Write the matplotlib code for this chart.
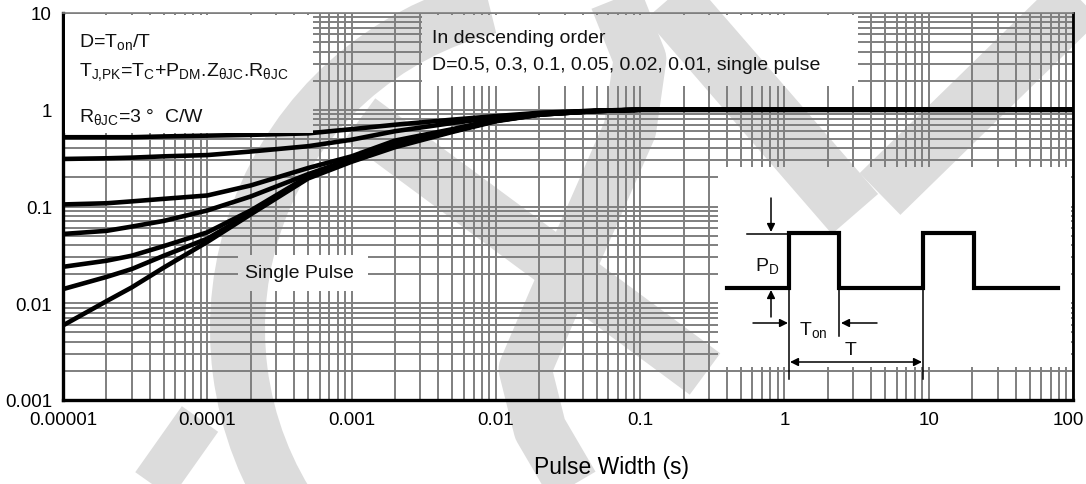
import numpy as np
import matplotlib
matplotlib.use("Agg")
import matplotlib.pyplot as plt
from matplotlib.patches import Rectangle, Wedge
from matplotlib.transforms import ScaledTranslation
from matplotlib.ticker import FixedLocator, FixedFormatter, LogLocator, NullFormatter

plt.rcParams['font.family'] = ['Liberation Sans', 'DejaVu Sans']

# transient thermal impedance
pulse_width = [1e-5, 2e-5, 3e-5, 5e-5, 1e-4, 2e-4, 5e-4, 1e-3, 2e-3, 5e-3,
               1e-2, 2e-2, 5e-2, 0.1, 1, 10, 100]
z_d050 = [0.52, 0.52, 0.52, 0.53, 0.54, 0.55, 0.57, 0.63, 0.70, 0.79, 0.86, 0.93, 0.98, 1.0, 1.0, 1.0, 1.0]
z_d030 = [0.31, 0.315, 0.32, 0.33, 0.34, 0.37, 0.42, 0.49, 0.60, 0.73, 0.83, 0.92, 0.98, 1.0, 1.0, 1.0, 1.0]
z_d010 = [0.105, 0.108, 0.113, 0.12, 0.13, 0.165, 0.25, 0.33, 0.48, 0.63, 0.79, 0.90, 0.97, 1.0, 1.0, 1.0, 1.0]
z_d005 = [0.052, 0.056, 0.062, 0.071, 0.091, 0.127, 0.216, 0.31, 0.44, 0.62, 0.78, 0.90, 0.97, 1.0, 1.0, 1.0, 1.0]
z_d002 = [0.0238, 0.0275, 0.031, 0.039, 0.054, 0.091, 0.205, 0.30, 0.43, 0.60, 0.77, 0.89, 0.97, 1.0, 1.0, 1.0, 1.0]
z_d001 = [0.014, 0.0187, 0.0226, 0.031, 0.0465, 0.085, 0.20, 0.295, 0.42, 0.60, 0.77, 0.89, 0.97, 1.0, 1.0, 1.0, 1.0]
z_single = [0.0059, 0.0105, 0.0146, 0.0234, 0.043, 0.083, 0.195, 0.29, 0.41, 0.59, 0.76, 0.89, 0.97, 1.0, 1.0, 1.0, 1.0]
curves = [z_d050, z_d030, z_d010, z_d005, z_d002, z_d001, z_single]

x_ticks = [1e-5, 1e-4, 1e-3, 1e-2, 1e-1, 1, 10, 100]
x_labels = ["0.00001", "0.0001", "0.001", "0.01", "0.1", "1", "10", "100"]
y_ticks = [0.001, 0.01, 0.1, 1, 10]
y_labels = ["0.001", "0.01", "0.1", "1", "10"]

W, H = 1086, 485
WM = '#dcdcdc'


def watermark(target, clip=None):
    # rough copy of the light grey logo behind the chart (pixel coords)
    arts = [target.add_patch(Wedge((570, 330), 360, 145, 256, width=55,
                                   facecolor=WM, edgecolor='none', zorder=3))]
    strokes = [([360, 705], [120, 375], 37),
               ([612, 640, 630, 595, 555, 525, 540, 578], [-10, 60, 130, 210, 300, 370, 430, 495], 38),
               ([660, 855], [-10, 215], 44),
               ([1095, 880], [-15, 195], 42),
               ([200, 140], [420, 505], 32)]
    for xs, ys, w in strokes:
        arts += target.plot(xs, ys, color=WM, lw=w, solid_capstyle='butt', zorder=3)
    if clip is not None:
        for a in arts:
            a.set_clip_path(clip)


fig = plt.figure(figsize=(W / 100, H / 100), dpi=100)

bg = fig.add_axes([0, 0, 1, 1], zorder=0)
bg.set_xlim(0, W)
bg.set_ylim(H, 0)
bg.axis('off')
watermark(bg)

ax = fig.add_axes([63 / W, (H - 401) / H, (1073 - 63) / W, (401 - 14) / H], zorder=1)
ax.set_facecolor('none')
for z in curves:
    ax.plot(pulse_width, z, color='black', lw=3.3, zorder=3)

ax.set_xscale('log')
ax.set_yscale('log')
ax.set_xlim(1e-5, 100)
ax.set_ylim(1e-3, 10)
ax.xaxis.set_major_locator(FixedLocator(x_ticks))
ax.xaxis.set_major_formatter(FixedFormatter(x_labels))
ax.yaxis.set_major_locator(FixedLocator(y_ticks))
ax.yaxis.set_major_formatter(FixedFormatter(y_labels))
for a in (ax.xaxis, ax.yaxis):
    a.set_minor_locator(LogLocator(10, subs=np.arange(2, 10), numticks=60))
    a.set_minor_formatter(NullFormatter())
ax.grid(True, which='both', color='#7f7f7f', lw=1.4)
ax.tick_params(which='both', length=0, labelsize=13.5)
ax.tick_params(axis='x', pad=8)
ax.tick_params(axis='y', pad=8)
ax.spines['left'].set_linewidth(2.4)
ax.spines['bottom'].set_linewidth(2.4)
ax.spines['right'].set_linewidth(2.0)
ax.spines['top'].set_color('#7f7f7f')
ax.spines['top'].set_linewidth(1.2)
ax.set_xlabel("Pulse Width (s)", fontsize=16.5)
ax.xaxis.set_label_coords((612 - 63) / (1073 - 63), (401 - 456) / 387)
fig.canvas.draw()
last = ax.get_xticklabels()[-1]
last.set_transform(last.get_transform() + ScaledTranslation(-0.05, 0, fig.dpi_scale_trans))

# overlay in pixel coordinates: blank areas, notes and the pulse sketch
ov = fig.add_axes([0, 0, 1, 1], zorder=2)
ov.set_facecolor('none')
ov.set_xlim(0, W)
ov.set_ylim(H, 0)
ov.axis('off')

boxes = [(65, 16, 313, 134), (422, 16, 858, 87), (238, 256, 368, 292), (718, 168, 1071, 368)]
for x0, y0, x1, y1 in boxes:
    r = Rectangle((x0, y0), x1 - x0, y1 - y0, facecolor='white', edgecolor='none', zorder=1)
    ov.add_patch(r)
    watermark(ov, clip=r)

tk = dict(fontsize=14, color='#111111', zorder=5)
ov.text(79, 48, r"D=T$_\mathregular{on}$/T", va='baseline', **tk)
ov.text(79, 77, r"T$_\mathregular{J{,}PK}$=T$_\mathregular{C}$+P$_\mathregular{DM}$.Z$_\mathregular{θJC}$.R$_\mathregular{θJC}$",
        va='baseline', **tk)
ov.text(79, 123, r"R$_\mathregular{θJC}$=3 °  C/W", va='baseline', **tk)
ov.text(432, 43, "In descending order", va='baseline', **tk)
ov.text(432, 70, "D=0.5, 0.3, 0.1, 0.05, 0.02, 0.01, single pulse", va='baseline', **tk)
ov.text(299, 274, "Single Pulse", ha='center', va='center', **tk)

# pulse train sketch
wave_x = [727, 789, 789, 839, 839, 923, 923, 974, 974, 1058]
wave_y = [289, 289, 234, 234, 289, 289, 234, 234, 289, 289]
ov.plot(wave_x, wave_y, color='black', lw=3.0, zorder=4, solid_joinstyle='miter')
thin = dict(color='black', lw=1.1, zorder=4)
ov.plot([747, 789], [235, 235], **thin)
ov.plot([789, 789], [289, 380], **thin)
ov.plot([839, 839], [289, 337], **thin)
ov.plot([923, 923], [289, 380], **thin)
arr = dict(arrowstyle='-|>', color='black', lw=1.1, mutation_scale=12, shrinkA=0, shrinkB=0)
ov.annotate('', xy=(771, 233), xytext=(771, 199), arrowprops=arr, zorder=4)
ov.annotate('', xy=(771, 291), xytext=(771, 318), arrowprops=arr, zorder=4)
ov.annotate('', xy=(788, 324), xytext=(753, 324), arrowprops=arr, zorder=4)
ov.annotate('', xy=(841, 324), xytext=(877, 324), arrowprops=arr, zorder=4)
ov.annotate('', xy=(922, 363), xytext=(790, 363),
            arrowprops=dict(arrowstyle='<|-|>', color='black', lw=1.1, mutation_scale=12,
                            shrinkA=0, shrinkB=0), zorder=4)
ov.text(767, 267, r"P$_\mathregular{D}$", ha='center', va='center', **tk)
ov.text(813, 331, r"T$_\mathregular{on}$", ha='center', va='center', **tk)
ov.text(851, 351, "T", ha='center', va='center', **tk)

fig.savefig("out.png", dpi=100)
